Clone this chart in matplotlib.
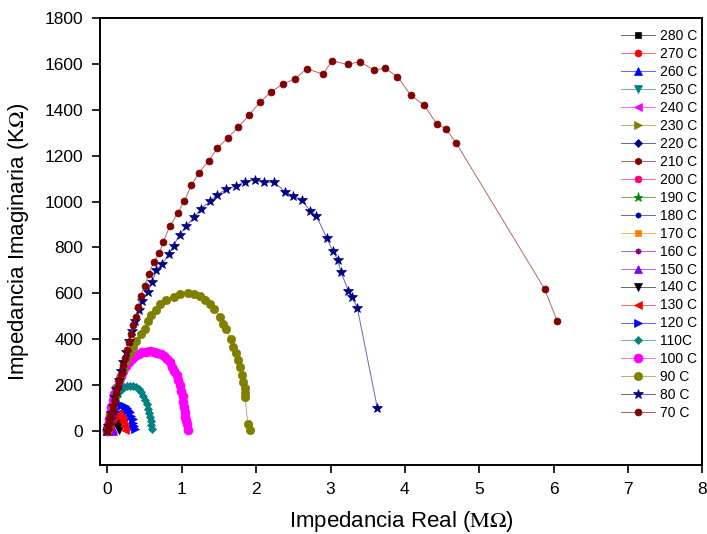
import matplotlib
matplotlib.use('Agg')
import matplotlib.pyplot as plt
from matplotlib.colors import to_rgb

plt.rcParams['font.family'] = ['Liberation Sans', 'DejaVu Sans']
plt.rcParams['mathtext.fontset'] = 'stix'

# Real part in MOhm, imaginary part in kOhm
x_280 = [0.000, 0.001, 0.002, 0.003, 0.004]
y_280 = [0, 1, 2, 1, 0]
x_270 = [0.000, 0.001, 0.003, 0.004, 0.005]
y_270 = [0, 1, 2, 1, 0]
x_260 = [0.000, 0.002, 0.003, 0.005, 0.006]
y_260 = [0, 1, 2, 1, 0]
x_250 = [0.000, 0.002, 0.004, 0.006, 0.007]
y_250 = [0, 1, 2, 2, 0]
x_240 = [0.000, 0.002, 0.004, 0.007, 0.009]
y_240 = [0, 2, 3, 2, 0]
x_230 = [0.000, 0.003, 0.005, 0.008, 0.011]
y_230 = [0, 2, 3, 2, 0]
x_220 = [0.000, 0.003, 0.007, 0.010, 0.014]
y_220 = [0, 2, 3, 2, 0]
x_210 = [0.000, 0.004, 0.009, 0.013, 0.018]
y_210 = [0, 2, 3, 2, 0]
x_200 = [0.000, 0.005, 0.011, 0.016, 0.022]
y_200 = [0, 3, 4, 3, 0]
x_190 = [0.000, 0.007, 0.014, 0.021, 0.028]
y_190 = [0, 3, 5, 4, 0]
x_180 = [0.000, 0.009, 0.018, 0.026, 0.035]
y_180 = [0, 4, 7, 5, 1]
x_170 = [0.000, 0.011, 0.022, 0.034, 0.045]
y_170 = [0, 6, 9, 7, 1]
x_160 = [0.000, 0.012, 0.025, 0.038, 0.050, 0.060]
y_160 = [0, 7, 11, 12, 8, 1]
x_150 = [0.00, 0.01, 0.02, 0.03, 0.04, 0.05, 0.06, 0.07, 0.08]
y_150 = [0, 8, 14, 18, 19, 17, 12, 7, 1]
x_140 = [0.00, 0.02, 0.04, 0.06, 0.08, 0.10, 0.12, 0.13, 0.14, 0.15]
y_140 = [0, 12, 22, 30, 35, 37, 34, 26, 15, 4]
x_130 = [0.00, 0.02, 0.04, 0.06, 0.08, 0.10, 0.12, 0.14, 0.16, 0.18, 0.20, 0.21, 0.22, 0.23]
y_130 = [0, 18, 35, 50, 62, 70, 75, 76, 73, 64, 50, 36, 20, 5]
x_120 = [0.00, 0.02, 0.04, 0.06, 0.08, 0.10, 0.12, 0.14, 0.17, 0.20, 0.23, 0.26,
         0.28, 0.30, 0.32, 0.34, 0.35, 0.36, 0.37]
y_120 = [0, 20, 40, 58, 74, 88, 98, 106, 111, 112, 109, 101, 92, 80, 66, 50, 35, 20, 6]
x_110 = [0.00, 0.01, 0.02, 0.04, 0.06, 0.08, 0.10, 0.13, 0.16, 0.19, 0.22, 0.26, 0.30,
         0.34, 0.38, 0.42, 0.45, 0.48, 0.51, 0.53, 0.55, 0.56, 0.57, 0.58, 0.59, 0.60]
y_110 = [0, 20, 40, 65, 90, 112, 132, 152, 168, 180, 189, 194, 196, 195, 190, 180,
         168, 152, 133, 115, 95, 78, 60, 42, 25, 8]
x_100 = [0.00, 0.01, 0.02, 0.03, 0.05, 0.07, 0.09, 0.12, 0.15, 0.18, 0.21, 0.25, 0.29,
         0.33, 0.37, 0.42, 0.47, 0.52, 0.57, 0.62, 0.67, 0.72, 0.76, 0.80, 0.84, 0.87,
         0.90, 0.93, 0.95, 0.97, 0.99, 1.01, 1.02, 1.03, 1.04, 1.05, 1.06, 1.07, 1.09]
y_100 = [0, 25, 50, 75, 105, 135, 162, 188, 215, 240, 262, 282, 300, 315, 327, 336,
         342, 345, 346, 345, 341, 334, 325, 313, 298, 280, 262, 242, 220, 198, 175,
         150, 125, 103, 82, 62, 46, 30, 2]
x_90 = [0.00, 0.02, 0.04, 0.07, 0.10, 0.13, 0.17, 0.21, 0.25, 0.30, 0.34, 0.39, 0.45,
        0.50, 0.54, 0.59, 0.65, 0.71, 0.79, 0.89, 0.98, 1.09, 1.17, 1.24, 1.31, 1.38,
        1.43, 1.51, 1.56, 1.60, 1.66, 1.69, 1.73, 1.76, 1.78, 1.81, 1.83, 1.85, 1.85,
        1.85, 1.89, 1.92]
y_90 = [0, 30, 70, 110, 150, 190, 230, 270, 305, 340, 367, 392, 421, 445, 480, 503,
        528, 553, 569, 583, 598, 601, 598, 589, 569, 553, 531, 498, 466, 443, 399, 367,
        341, 309, 277, 243, 214, 187, 163, 145, 28, 5]
x_80 = [0.00, 0.01, 0.03, 0.05, 0.07, 0.09, 0.12, 0.15, 0.18, 0.21, 0.25, 0.29, 0.33,
        0.37, 0.42, 0.47, 0.54, 0.60, 0.66, 0.74, 0.83, 0.89, 0.97, 1.06, 1.17, 1.26,
        1.38, 1.48, 1.60, 1.73, 1.85, 1.98, 2.11, 2.24, 2.39, 2.50, 2.61, 2.73, 2.81,
        2.95, 3.03, 3.10, 3.14, 3.24, 3.29, 3.36, 3.63]
y_80 = [0, 20, 48, 78, 110, 145, 182, 220, 260, 300, 345, 390, 435, 480, 525, 565,
        604, 647, 703, 729, 772, 808, 855, 894, 932, 969, 1001, 1030, 1053, 1068, 1087,
        1093, 1083, 1085, 1042, 1023, 1008, 958, 938, 840, 785, 744, 693, 610, 583, 537, 99]
x_70 = [0.00, 0.01, 0.02, 0.04, 0.06, 0.08, 0.10, 0.12, 0.14, 0.16, 0.19, 0.21, 0.24,
        0.26, 0.29, 0.32, 0.35, 0.38, 0.41, 0.45, 0.50, 0.56, 0.62, 0.70, 0.75, 0.84,
        0.95, 1.03, 1.13, 1.23, 1.36, 1.48, 1.62, 1.76, 1.91, 2.05, 2.20, 2.36, 2.52,
        2.68, 2.90, 3.02, 3.23, 3.39, 3.59, 3.73, 3.90, 4.08, 4.26, 4.43, 4.55, 4.69,
        5.88, 6.05]
y_70 = [0, 15, 35, 58, 82, 108, 135, 163, 192, 222, 253, 285, 318, 352, 387, 423, 460,
        498, 540, 589, 633, 684, 735, 776, 823, 893, 951, 1001, 1070, 1125, 1177, 1234,
        1277, 1325, 1379, 1433, 1478, 1513, 1535, 1579, 1556, 1614, 1598, 1610, 1573,
        1582, 1545, 1464, 1420, 1338, 1318, 1255, 618, 477]

labels = ['280 C', '270 C', '260 C', '250 C', '240 C', '230 C', '220 C', '210 C',
          '200 C', '190 C', '180 C', '170 C', '160 C', '150 C', '140 C', '130 C',
          '120 C', '110C', '100 C', '90 C', '80 C', '70 C']
colors = ['#000000', '#ff0000', '#0000ff', '#008080', '#ff00ff', '#808000', '#000080',
          '#800000', '#ff0080', '#008000', '#0000a0', '#ff8000', '#800080', '#8000ff',
          '#000000', '#ff0000', '#0000ff', '#008080', '#ff00ff', '#808000', '#000080',
          '#800000']
markers = ['s', 'o', '^', 'v', '<', '>', 'D', 'h', 'o', '*', 'h', 's', 'h', '^',
           'v', '<', '>', 'D', 'o', 'o', '*', 'o']
sizes = [5, 5, 5.5, 5.5, 5.5, 5.5, 4, 5, 5, 6.5, 4, 5, 4, 5.5,
         5.5, 5.5, 5.5, 4.5, 6.5, 6, 7, 5]

xs = [x_280, x_270, x_260, x_250, x_240, x_230, x_220, x_210, x_200, x_190, x_180,
      x_170, x_160, x_150, x_140, x_130, x_120, x_110, x_100, x_90, x_80, x_70]
ys = [y_280, y_270, y_260, y_250, y_240, y_230, y_220, y_210, y_200, y_190, y_180,
      y_170, y_160, y_150, y_140, y_130, y_120, y_110, y_100, y_90, y_80, y_70]


def lighten(c, amt=0.4):
    r, g, b = to_rgb(c)
    return (r + (1 - r) * amt, g + (1 - g) * amt, b + (1 - b) * amt)


fig = plt.figure(figsize=(7.07, 5.34), dpi=100)
ax = fig.add_axes([0.1414, 0.129, 0.852, 0.837])

for x, y, lab, c, m, s in zip(xs, ys, labels, colors, markers, sizes):
    ax.plot(x, y, color=lighten(c), marker=m, markersize=s, linewidth=0.7,
            markerfacecolor=c, markeredgecolor=c, markeredgewidth=0.5, label=lab)

ax.set_xlim(-0.1, 8)
ax.set_ylim(-150, 1800)
ax.set_xticks(range(0, 9))
ax.set_yticks(range(0, 1801, 200))
ax.tick_params(direction='out', length=6, width=1.2, labelsize=12.5, pad=6)
for sp in ax.spines.values():
    sp.set_linewidth(1.4)

ax.set_xlabel(r'Impedancia Real ($\mathrm{M\Omega}$)', fontsize=16, labelpad=8.5)
ax.set_ylabel(r'Impedancia Imaginaria (K$\Omega$)', fontsize=16, labelpad=10)

ax.legend(loc='upper right', bbox_to_anchor=(0.9865, 0.9456),
          bbox_transform=fig.transFigure, frameon=False, fontsize=10,
          labelspacing=0.285, handlelength=2.4, handletextpad=0.4,
          borderaxespad=0, borderpad=0, numpoints=1)

plt.savefig('out.png', dpi=100)
